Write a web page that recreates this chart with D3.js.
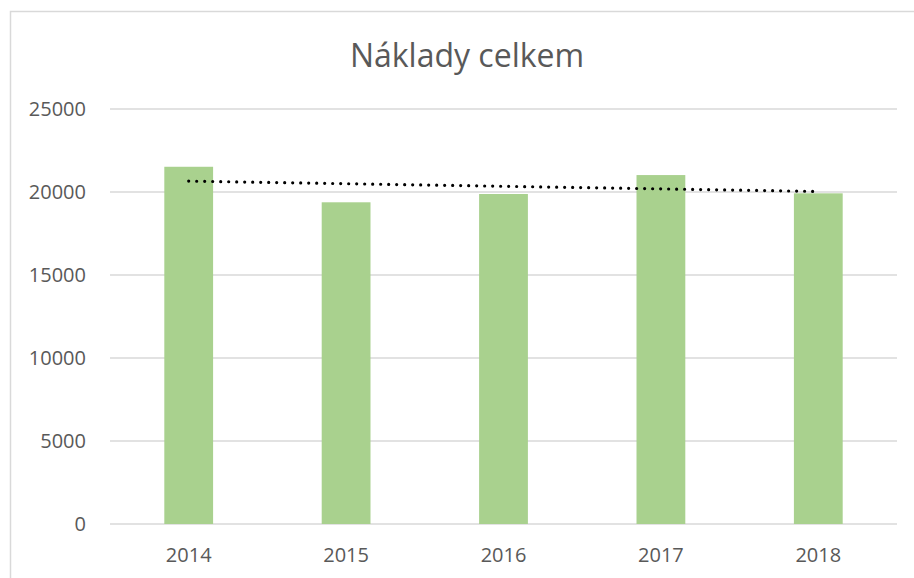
<!DOCTYPE html>
<html>
<head>
<meta charset="utf-8">
<script src="https://cdn.jsdelivr.net/npm/d3@7"></script>
<style>
  html, body { margin: 0; padding: 0; background: #fff; }
  svg { display: block; font-family: "Open Sans", sans-serif; }
</style>
</head>
<body>
<div id="chart"></div>
<script>
const title = "Náklady celkem";
const years = ["2014", "2015", "2016", "2017", "2018"];
const costs = [21520, 19380, 19880, 21020, 19920];
const yTicks = [0, 5000, 10000, 15000, 20000, 25000];

const width = 914, height = 578;
const margin = { top: 109, right: 17, bottom: 54, left: 110 };

const svg = d3.select("#chart")
    .append("svg")
    .attr("width", width)
    .attr("height", height);

// chart area border (only top and left visible in the crop)
svg.append("path")
    .attr("d", `M10.5,${height} V11.5 H${width}`)
    .attr("fill", "none")
    .attr("stroke", "#d9d9d9")
    .attr("stroke-width", 1.5);

svg.append("text")
    .attr("x", 467)
    .attr("y", 67)
    .attr("text-anchor", "middle")
    .attr("fill", "#595959")
    .style("font-size", "32px")
    .text(title);

var x = d3.scaleBand()
    .domain(years)
    .range([margin.left, width - margin.right])
    .paddingInner(0.69)
    .paddingOuter(0.345);

var y = d3.scaleLinear()
    .domain([0, 25000])
    .range([height - margin.bottom, margin.top]);

// gridlines
svg.append("g")
    .selectAll("line")
    .data(yTicks)
    .enter()
    .append("line")
    .attr("x1", margin.left)
    .attr("x2", width - margin.right)
    .attr("y1", d => y(d))
    .attr("y2", d => y(d))
    .attr("stroke", "#d9d9d9")
    .attr("stroke-width", 1.3);

// y axis labels
var yAxis = svg.append("g")
    .attr("transform", `translate(${margin.left - 24},0)`)
    .call(d3.axisLeft(y).tickValues(yTicks).tickSize(0).tickPadding(0).tickFormat(d3.format("d")));
yAxis.select(".domain").remove();
yAxis.selectAll("text")
    .attr("fill", "#595959")
    .style("font-size", "20px")
    .style("font-family", "Open Sans, sans-serif");

// bars
svg.append("g")
    .selectAll("rect")
    .data(costs)
    .enter()
    .append("rect")
    .attr("x", (d, i) => x(years[i]))
    .attr("width", x.bandwidth())
    .attr("y", d => y(d))
    .attr("height", d => y(0) - y(d))
    .attr("fill", "#a9d18e");

// x axis labels
var xAxis = svg.append("g")
    .attr("transform", `translate(0,${height - margin.bottom})`)
    .call(d3.axisBottom(x).tickSize(0).tickPadding(24));
xAxis.select(".domain").remove();
xAxis.selectAll("text")
    .attr("fill", "#595959")
    .style("font-size", "20px")
    .style("font-family", "Open Sans, sans-serif");

// linear trendline (least squares over category index)
var n = costs.length;
var xs = d3.range(1, n + 1);
var mx = d3.mean(xs), my = d3.mean(costs);
var slope = d3.sum(xs, (v, i) => (v - mx) * (costs[i] - my)) / d3.sum(xs, v => (v - mx) * (v - mx));
var intercept = my - slope * mx;

var line = d3.line()
    .x(d => x(years[d - 1]) + x.bandwidth() / 2)
    .y(d => y(intercept + slope * d));

svg.append("path")
    .datum([1, n])
    .attr("d", line)
    .attr("fill", "none")
    .attr("stroke", "#000")
    .attr("stroke-width", 3.2)
    .attr("stroke-linecap", "round")
    .attr("stroke-dasharray", "0 8");
</script>
</body>
</html>
